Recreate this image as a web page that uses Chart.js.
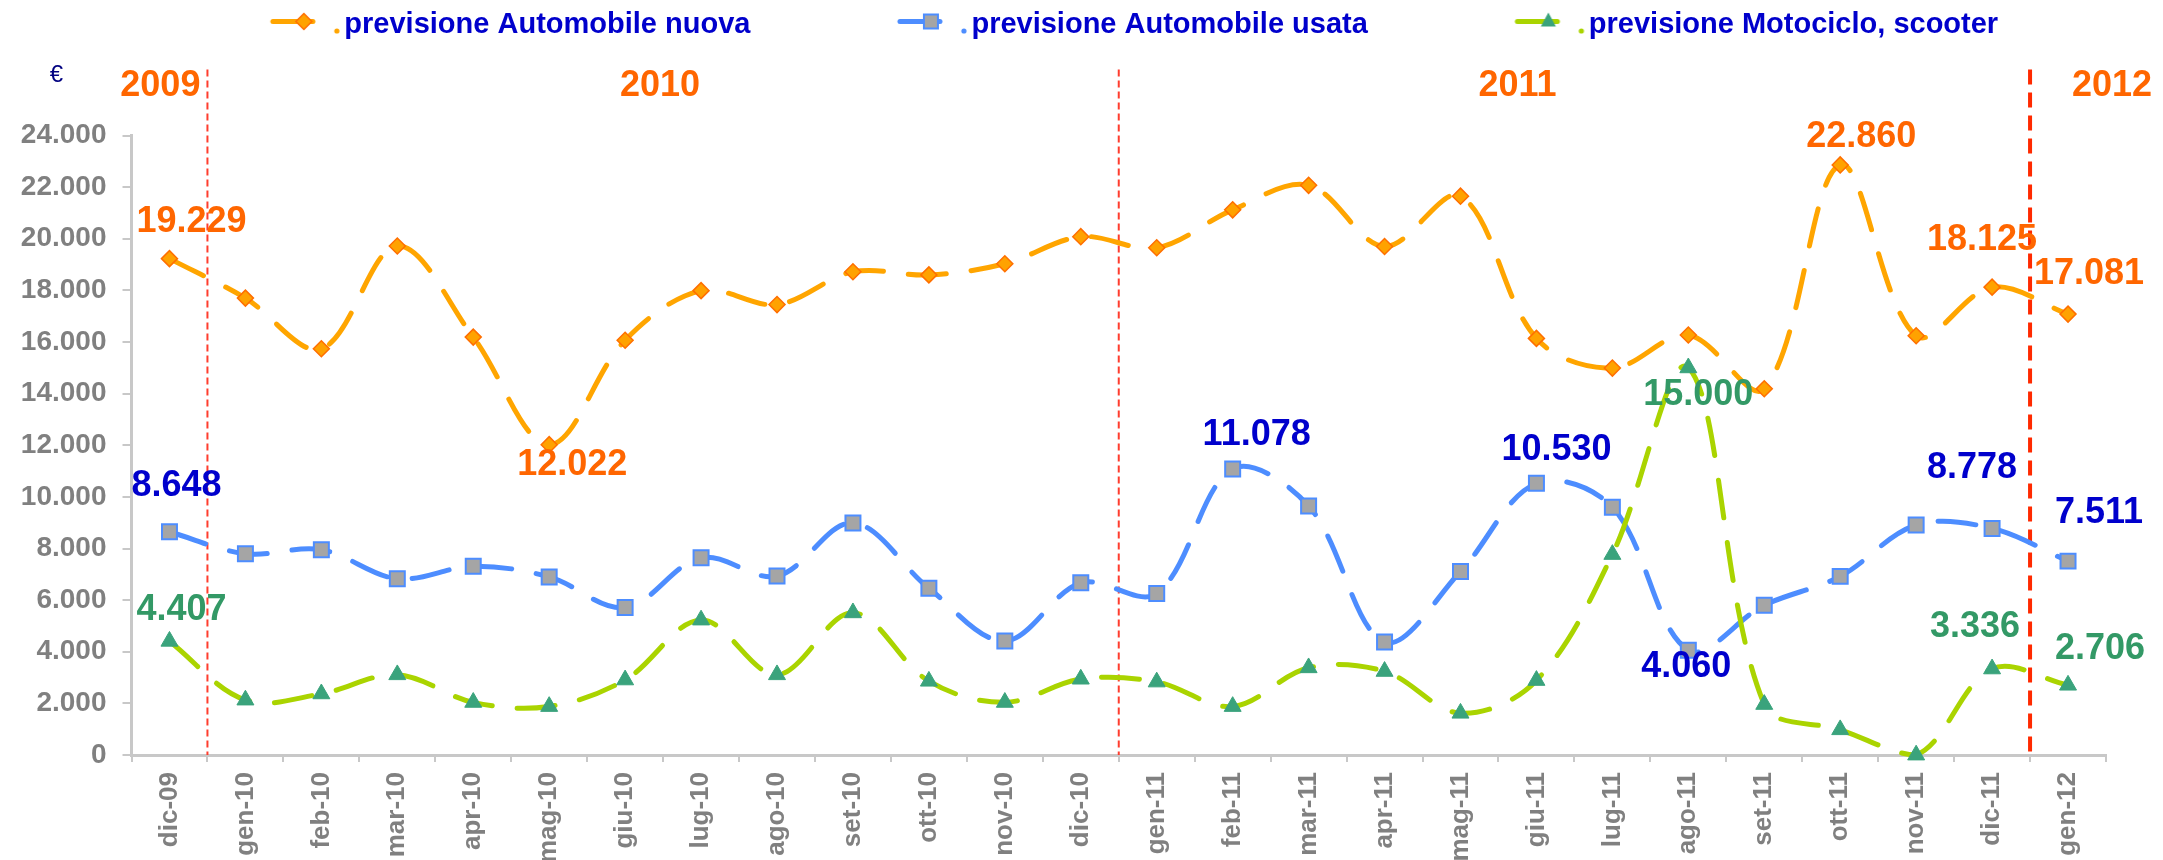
<!DOCTYPE html>
<html lang="it">
<head>
<meta charset="utf-8">
<title>Previsioni prezzi medi</title>
<script src="https://cdn.jsdelivr.net/npm/chart.js@4.4.1/dist/chart.umd.min.js"></script>
<style>
    html, body { margin: 0; padding: 0; background: #fff; }
    #wrap { width: 2163px; height: 860px; }
</style>
</head>
<body>
<div id="wrap"><canvas id="chart" width="2163" height="860"></canvas></div>
<script>
// Months on the category axis
const months = [
    'dic-09',
    'gen-10', 'feb-10', 'mar-10', 'apr-10', 'mag-10', 'giu-10',
    'lug-10', 'ago-10', 'set-10', 'ott-10', 'nov-10', 'dic-10',
    'gen-11', 'feb-11', 'mar-11', 'apr-11', 'mag-11', 'giu-11',
    'lug-11', 'ago-11', 'set-11', 'ott-11', 'nov-11', 'dic-11',
    'gen-12'
];

const seriesNames = [
    'previsione Automobile nuova',
    'previsione Automobile usata',
    'previsione Motociclo, scooter'
];

// Values in euro (labelled points are exact)
const nuova = [19229, 17700, 15740, 19720, 16190, 12022, 16070, 17990, 17450, 18720, 18600, 19030, 20080,
               19650, 21120, 22070, 19700, 21650, 16140, 14990, 16270, 14190, 22860, 16240, 18125, 17081];
const usata = [8648, 7800, 7950, 6830, 7310, 6900, 5710, 7640, 6930, 8990, 6460, 4420, 6670,
               6260, 11078, 9650, 4380, 7110, 10530, 9600, 4060, 5800, 6920, 8910, 8778, 7511];
const moto  = [4407, 2130, 2370, 3110, 2040, 1880, 2910, 5230, 3110, 5510, 2860, 2040, 2940,
               2830, 1880, 3380, 3240, 1620, 2890, 7770, 15000, 1960, 980, 0, 3336, 2706];

const yearLabels = ['2009', '2010', '2011', '2012'];
// index of the last month of each year before a separator
const yearEnds = [0, 12, 24];

const yMax = 24000;
const yStep = 2000;

const FONT = 'Arial, "Liberation Sans", Helvetica, sans-serif';

// "24000" -> "24.000"
const fmt = v => String(v).replace(/\B(?=(\d{3})+(?!\d))/g, '.');

// Legend key: line stub + marker + small dot, drawn into an offscreen canvas
function swatch(lineColor, drawMarker) {
    const c = document.createElement('canvas');
    c.width = 220;
    c.height = 30;
    const g = c.getContext('2d');
    const ms = 148, cy = 11.5;
    g.strokeStyle = lineColor;
    g.lineWidth = 5;
    g.lineCap = 'round';
    g.beginPath();
    g.moveTo(ms + 3, cy);
    g.lineTo(ms + 43, cy);
    g.stroke();
    drawMarker(g, ms + 34, cy);
    g.fillStyle = lineColor;
    g.beginPath();
    g.arc(ms + 67, 21, 2.6, 0, Math.PI * 2);
    g.fill();
    return c;
}

const swatches = [
    swatch('#FFA500', (g, x, y) => {
        g.beginPath();
        g.moveTo(x, y - 8); g.lineTo(x + 8, y); g.lineTo(x, y + 8); g.lineTo(x - 8, y); g.closePath();
        g.fillStyle = '#FFA200'; g.fill();
        g.lineWidth = 1.5; g.strokeStyle = '#FF6F00'; g.stroke();
    }),
    swatch('#4D8DFF', (g, x, y) => {
        g.fillStyle = '#A5A5A5'; g.fillRect(x - 7, y - 7, 14, 14);
        g.lineWidth = 2; g.strokeStyle = '#4D8DFF'; g.strokeRect(x - 7, y - 7, 14, 14);
    }),
    swatch('#AAD400', (g, x, y) => {
        g.beginPath();
        g.moveTo(x, y - 9); g.lineTo(x + 7.5, y + 5); g.lineTo(x - 7.5, y + 5); g.closePath();
        g.fillStyle = '#3AA37C'; g.fill();
    })
];

// Dashed red year separators and the currency unit
const yearMarks = {
    id: 'yearMarks',
    beforeDatasetsDraw(chart) {
        const { ctx, chartArea, scales: { x } } = chart;
        const half = (x.getPixelForValue(1) - x.getPixelForValue(0)) / 2;
        ctx.save();
        yearEnds.forEach((idx, n) => {
            const last = n === yearEnds.length - 1;
            const px = x.getPixelForValue(idx) + half;
            ctx.beginPath();
            ctx.strokeStyle = last ? '#FF2A00' : '#FF3D2E';
            ctx.lineWidth = last ? 4 : 2;
            ctx.setLineDash(last ? [15, 8] : [7, 4]);
            ctx.moveTo(px, chartArea.top - 66);
            ctx.lineTo(px, chartArea.bottom);
            ctx.stroke();
        });
        ctx.setLineDash([]);
        ctx.fillStyle = '#000080';
        ctx.font = '24px ' + FONT;
        ctx.textAlign = 'center';
        ctx.textBaseline = 'middle';
        ctx.fillText('€', chartArea.left - 75, chartArea.top - 60);
        ctx.restore();
    }
};

// Value labels next to selected points
const valueLabels = {
    id: 'valueLabels',
    afterDatasetsDraw(chart, args, opts) {
        const { ctx } = chart;
        ctx.save();
        ctx.font = 'bold 36px ' + FONT;
        ctx.textAlign = 'center';
        ctx.textBaseline = 'middle';
        opts.items.forEach(({ ds, i, dx, dy }) => {
            const pt = chart.getDatasetMeta(ds).data[i];
            ctx.fillStyle = opts.colors[ds];
            ctx.fillText(fmt(chart.data.datasets[ds].data[i]), pt.x + dx, pt.y + dy);
        });
        ctx.restore();
    }
};

Chart.defaults.font.family = FONT;

const lineStyle = {
    borderWidth: 5,
    borderDash: [38, 25],
    borderCapStyle: 'round',
    tension: 0.35,
    clip: 12
};

new Chart(document.getElementById('chart'), {
    type: 'line',
    data: {
        labels: months,
        datasets: [
            {
                ...lineStyle,
                label: seriesNames[0],
                data: nuova,
                order: 3,
                borderColor: '#FFA500',
                pointStyle: 'rectRot',
                pointRadius: 8,
                pointBackgroundColor: '#FFA200',
                pointBorderColor: '#FF6F00',
                pointBorderWidth: 1.5
            },
            {
                ...lineStyle,
                label: seriesNames[1],
                data: usata,
                order: 2,
                borderColor: '#4D8DFF',
                pointStyle: 'rect',
                pointRadius: 10.6,
                pointBackgroundColor: '#A5A5A5',
                pointBorderColor: '#4D8DFF',
                pointBorderWidth: 2
            },
            {
                ...lineStyle,
                label: seriesNames[2],
                data: moto,
                order: 1,
                borderColor: '#AAD400',
                pointStyle: 'triangle',
                pointRadius: 9.8,
                pointBackgroundColor: '#3AA37C',
                pointBorderColor: '#3AA37C',
                pointBorderWidth: 1
            }
        ]
    },
    options: {
        responsive: false,
        animation: false,
        events: [],
        layout: { padding: { left: 0, right: 31, top: 0, bottom: 0 } },
        plugins: {
            legend: {
                position: 'top',
                labels: {
                    usePointStyle: true,
                    pointStyleWidth: 196,
                    padding: 10.5,
                    color: '#0000CC',
                    font: { size: 29, weight: 'bold' },
                    generateLabels: chart => chart.data.datasets.map((d, i) => ({
                        text: d.label,
                        pointStyle: swatches[i],
                        fontColor: '#0000CC',
                        fillStyle: 'transparent',
                        strokeStyle: 'transparent',
                        lineWidth: 0,
                        hidden: false,
                        datasetIndex: i
                    }))
                }
            },
            tooltip: { enabled: false },
            valueLabels: {
                colors: ['#FF6600', '#0000CC', '#339966'],
                items: [
                    { ds: 0, i: 0,  dx: 22,  dy: -37 },
                    { ds: 0, i: 5,  dx: 23,  dy: 20 },
                    { ds: 0, i: 22, dx: 21,  dy: -28 },
                    { ds: 0, i: 24, dx: -10, dy: -47 },
                    { ds: 0, i: 25, dx: 21,  dy: -40 },
                    { ds: 1, i: 0,  dx: 7,   dy: -46 },
                    { ds: 1, i: 14, dx: 24,  dy: -34 },
                    { ds: 1, i: 18, dx: 20,  dy: -33 },
                    { ds: 1, i: 20, dx: -2,  dy: 17 },
                    { ds: 1, i: 24, dx: -20, dy: -60 },
                    { ds: 1, i: 25, dx: 31,  dy: -48 },
                    { ds: 2, i: 0,  dx: 12,  dy: -31 },
                    { ds: 2, i: 20, dx: 10,  dy: 27 },
                    { ds: 2, i: 24, dx: -17, dy: -42 },
                    { ds: 2, i: 25, dx: 32,  dy: -36 }
                ]
            }
        },
        scales: {
            x: {
                offset: true,
                grid: { offset: true, drawOnChartArea: false, tickLength: 7, color: '#C8C8C8', lineWidth: 2 },
                border: { color: '#C8C8C8', width: 3 },
                ticks: {
                    color: '#808080',
                    font: { size: 26, weight: 'bold' },
                    minRotation: 90,
                    maxRotation: 90,
                    padding: 10,
                    autoSkip: false
                },
                afterFit: s => { s.height = 105; s.paddingLeft = 0; s.paddingRight = 0; }
            },
            // top axis only carries the year headings
            years: {
                type: 'linear',
                position: 'top',
                min: -0.5,
                max: 25.5,
                bounds: 'data',
                grid: { display: false },
                border: { display: false },
                ticks: {
                    autoSkip: false,
                    minRotation: 0,
                    maxRotation: 0,
                    padding: 20,
                    color: '#FF6600',
                    font: { size: 36, weight: 'bold' },
                    callback: (v, i) => yearLabels[i]
                },
                afterBuildTicks: s => { s.ticks = [-0.12, 6.46, 17.75, 25.58].map(value => ({ value })); },
                afterFit: s => { s.height = 86; s.paddingLeft = 0; s.paddingRight = 0; }
            },
            y: {
                min: 0,
                max: yMax,
                ticks: {
                    stepSize: yStep,
                    color: '#808080',
                    font: { size: 28, weight: 'bold' },
                    padding: 16,
                    callback: v => fmt(v)
                },
                grid: { drawOnChartArea: false, tickLength: 9, color: '#C8C8C8', lineWidth: 2 },
                border: { color: '#C8C8C8', width: 3 },
                afterFit: s => { s.width = 131.5; }
            },
            // empty right-hand axis that only reserves the right margin
            gutter: {
                type: 'linear',
                position: 'right',
                grid: { display: false },
                border: { display: false },
                ticks: { display: false },
                afterFit: s => { s.width = 26; }
            }
        }
    },
    plugins: [yearMarks, valueLabels]
});
</script>
</body>
</html>
